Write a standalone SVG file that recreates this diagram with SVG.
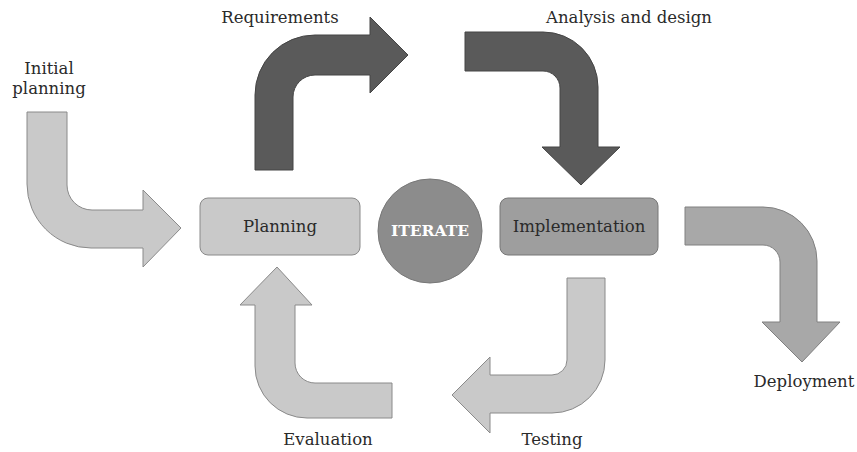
<svg xmlns="http://www.w3.org/2000/svg" width="857" height="452" viewBox="0 0 857 452">
<style>
text{font-family:"DejaVu Serif","Liberation Serif",serif;font-size:16.5px;fill:#2a2a2a;text-anchor:middle}
.dark{fill:#5a5a5a;stroke:#444;stroke-width:1}
.light{fill:#c9c9c9;stroke:#8a8a8a;stroke-width:1}
.mid{fill:#a8a8a8;stroke:#808080;stroke-width:1}
</style>
<rect width="857" height="452" fill="#fff"/>
<g id="connectors">
<path id="initial-planning" class="light" d="M27,112 H67 V185 A25,25 0 0 0 92,210 H143 V190 L181,228 L143,267 V248 H91 A64,64 0 0 1 27,184 Z"/>
<path id="requirements" class="dark" d="M255,170 V95 A60,60 0 0 1 315,35 H370 V17 L408,55 L370,93 V75 H315 A22,22 0 0 0 293,97 V170 Z"/>
<path id="analysis" class="dark" d="M465,32 H543 A55,55 0 0 1 598,87 V147 H620 L581,185 L542,147 H560 V88 A17,17 0 0 0 543,71 H465 Z"/>
<path id="deployment" class="mid" d="M685,207 H763 A54,54 0 0 1 817,261 V322 H840 L802,362 L762,322 H780 V262 A17,17 0 0 0 763,245 H685 Z"/>
<path id="testing" class="light" d="M567,278 H605 V360 A53,53 0 0 1 552,413 H490 V433 L452,395 L490,357 V375 H552 A15,15 0 0 0 567,360 Z"/>
<path id="evaluation" class="light" d="M277,267 L312,305 H295 V363 A20,20 0 0 0 315,383 H392 V418 H307 A52,52 0 0 1 255,366 V305 H240 Z"/>
</g>
<g id="labels">
<text x="49" y="74">Initial</text>
<text x="49" y="94">planning</text>
<text x="280" y="23">Requirements</text>
<text x="629" y="23">Analysis and design</text>
<text x="804" y="387">Deployment</text>
<text x="552" y="445">Testing</text>
<text x="328" y="445">Evaluation</text>
</g>
<g id="planning">
<rect x="200" y="198" width="160" height="57" rx="8" fill="#c9c9c9" stroke="#8a8a8a"/>
<text x="280" y="232">Planning</text>
</g>
<g id="iterate">
<circle cx="430" cy="231" r="52" fill="#8c8c8c" stroke="#777"/>
<text x="430" y="236" style="fill:#fff;font-weight:bold;font-size:15.5px">ITERATE</text>
</g>
<g id="implementation">
<rect x="500" y="198" width="158" height="57" rx="8" fill="#9e9e9e" stroke="#777"/>
<text x="579" y="232">Implementation</text>
</g>
</svg>
